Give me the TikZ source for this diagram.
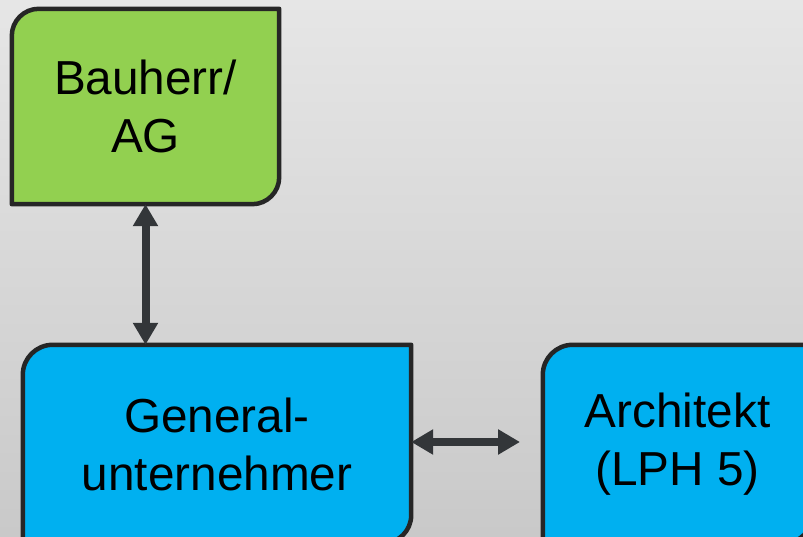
\documentclass[tikz,border=0pt]{standalone}
\usepackage{fontspec}
\setmainfont{Liberation Sans}
\usetikzlibrary{arrows.meta,calc}
\definecolor{bgtop}{RGB}{230,230,230}
\definecolor{bgbot}{RGB}{201,201,201}
\definecolor{gfill}{RGB}{146,208,80}
\definecolor{bfill}{RGB}{0,176,240}
\definecolor{edgec}{RGB}{38,38,38}
\definecolor{arrowc}{RGB}{51,54,57}
\pgfdeclarelayer{background}
\pgfsetlayers{background,main}
\newcommand\cornerbox[4]{%
  \filldraw[boxline, fill=#2] (#1.south west) -- ([yshift=-#3]#1.north west)
    arc[start angle=180,end angle=90,radius=#3] -- (#1.north east)
    -- ([yshift=#4]#1.south east) arc[start angle=0,end angle=-90,radius=#4] -- cycle;}
\begin{document}
\begin{tikzpicture}[x=1pt,y=1pt,
  box/.style={inner sep=0pt, align=center, font=\fontsize{47.7}{58}\selectfont},
  boxline/.style={draw=edgec, line width=4.5pt, line join=round},
  conn/.style={draw=arrowc, line width=8pt, {Triangle[width=24pt,length=22pt]}-{Triangle[width=24pt,length=22pt]}}]
\useasboundingbox (0,0) rectangle (803,536);
\node[box, minimum width=267pt, minimum height=195pt] (g) at (145.5,429.5) {Bauherr/\\AG};
\node[box, minimum width=388pt, minimum height=198pt] (gu) at (217,92) {General-\\unternehmer};
\node[box, minimum width=269pt, minimum height=198pt] (ar) at (677.5,92) {Architekt\\(LPH 5)};
\coordinate (hend) at (520,94);
\begin{pgfonlayer}{background}
  \shade[top color=bgtop, bottom color=bgbot] (0,0) rectangle (803,536);
  \cornerbox{g}{gfill}{27pt}{27pt}
  \cornerbox{gu}{bfill}{30pt}{28pt}
  \cornerbox{ar}{bfill}{30pt}{28pt}
\end{pgfonlayer}
\draw[conn] (g.south) -- (g.south |- gu.north);
\draw[conn] (gu.east |- hend) -- (hend);
\end{tikzpicture}
\end{document}
